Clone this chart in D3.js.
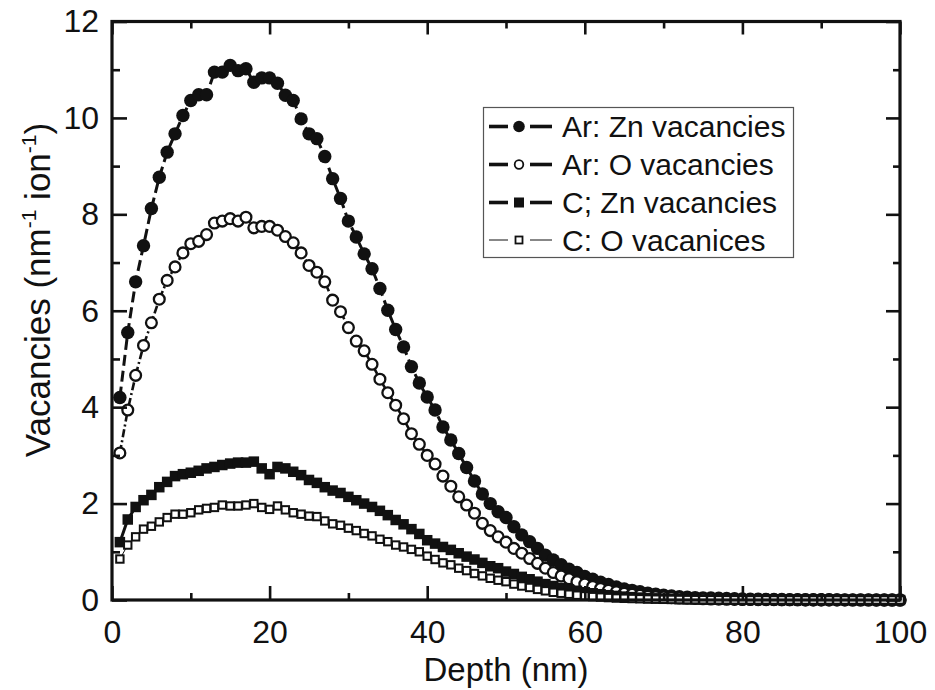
<!DOCTYPE html>
<html>
<head>
<meta charset="utf-8">
<script src="https://cdn.jsdelivr.net/npm/d3@7"></script>
<style>
  html, body { margin: 0; padding: 0; background: #fff; }
  svg { display: block; }
  text { font-family: "Liberation Sans", Arial, Helvetica, sans-serif; fill: #111; }
</style>
</head>
<body>
<svg id="chart" width="935" height="690"></svg>
<script>
// ---------------- DATA ----------------
const depth = d3.range(1, 101); // 1..100 nm

const arZn = [4.2, 5.55, 6.6, 7.35, 8.12, 8.77, 9.29, 9.67, 10.05, 10.36,
  10.48, 10.48, 10.95, 10.95, 11.09, 10.98, 11.02, 10.74, 10.83, 10.83,
  10.72, 10.47, 10.36, 9.98, 9.67, 9.57, 9.2, 8.74, 8.33, 7.86,
  7.53, 7.18, 6.87, 6.46, 6.01, 5.61, 5.25, 4.84, 4.5, 4.21,
  3.94, 3.59, 3.32, 3.04, 2.75, 2.47, 2.2, 2.0, 1.83, 1.71,
  1.52, 1.35, 1.21, 1.07, 0.93, 0.83, 0.73, 0.64, 0.57, 0.49,
  0.43, 0.37, 0.32, 0.27, 0.23, 0.2, 0.17, 0.14, 0.12, 0.1,
  0.085, 0.07, 0.06, 0.05, 0.045, 0.04, 0.035, 0.03, 0.025, 0.02,
  0.018, 0.016, 0.014, 0.012, 0.01, 0.008, 0.007, 0.006, 0.005, 0.004,
  0.004, 0.003, 0.003, 0.002, 0.002, 0.002, 0.001, 0.001, 0.001, 0.001];

const arO = [3.05, 3.94, 4.66, 5.28, 5.75, 6.24, 6.63, 6.91, 7.2, 7.39,
  7.44, 7.58, 7.82, 7.86, 7.91, 7.86, 7.94, 7.72, 7.75, 7.75,
  7.67, 7.54, 7.41, 7.2, 6.94, 6.8, 6.6, 6.22, 5.98, 5.65,
  5.37, 5.17, 4.89, 4.58, 4.3, 4.04, 3.76, 3.45, 3.23, 3.0,
  2.82, 2.57, 2.36, 2.14, 1.97, 1.8, 1.59, 1.44, 1.31, 1.2,
  1.07, 0.97, 0.86, 0.76, 0.66, 0.57, 0.5, 0.44, 0.38, 0.33,
  0.28, 0.24, 0.2, 0.17, 0.14, 0.12, 0.1, 0.08, 0.07, 0.06,
  0.05, 0.04, 0.035, 0.03, 0.025, 0.02, 0.018, 0.015, 0.012, 0.01,
  0.009, 0.008, 0.007, 0.006, 0.005, 0.004, 0.004, 0.003, 0.003, 0.002,
  0.002, 0.002, 0.001, 0.001, 0.001, 0.001, 0.001, 0.001, 0.0, 0.0];

const cZn = [1.2, 1.67, 1.93, 2.07, 2.18, 2.34, 2.45, 2.57, 2.61, 2.64,
  2.68, 2.73, 2.76, 2.8, 2.83, 2.85, 2.85, 2.87, 2.73, 2.61,
  2.76, 2.73, 2.66, 2.59, 2.49, 2.43, 2.34, 2.27, 2.22, 2.14,
  2.07, 2.0, 1.93, 1.85, 1.76, 1.66, 1.57, 1.47, 1.37, 1.24,
  1.17, 1.1, 1.04, 0.97, 0.9, 0.84, 0.77, 0.7, 0.66, 0.59,
  0.54, 0.48, 0.43, 0.38, 0.33, 0.29, 0.25, 0.22, 0.19, 0.16,
  0.14, 0.12, 0.1, 0.085, 0.07, 0.06, 0.05, 0.04, 0.035, 0.03,
  0.025, 0.02, 0.018, 0.015, 0.013, 0.011, 0.009, 0.008, 0.007, 0.006,
  0.005, 0.004, 0.004, 0.003, 0.003, 0.002, 0.002, 0.002, 0.001, 0.001,
  0.001, 0.001, 0.001, 0.0, 0.0, 0.0, 0.0, 0.0, 0.0, 0.0];

const cO = [0.85, 1.14, 1.31, 1.47, 1.53, 1.62, 1.71, 1.78, 1.78, 1.81,
  1.87, 1.9, 1.92, 1.97, 1.95, 1.95, 1.97, 2.0, 1.92, 1.88,
  1.95, 1.87, 1.81, 1.78, 1.74, 1.73, 1.64, 1.58, 1.55, 1.49,
  1.44, 1.38, 1.33, 1.26, 1.21, 1.14, 1.1, 1.05, 1.0, 0.91,
  0.84, 0.77, 0.73, 0.66, 0.61, 0.55, 0.5, 0.45, 0.41, 0.38,
  0.33, 0.29, 0.26, 0.22, 0.19, 0.16, 0.14, 0.12, 0.1, 0.085,
  0.07, 0.06, 0.05, 0.04, 0.035, 0.03, 0.025, 0.02, 0.017, 0.014,
  0.012, 0.01, 0.008, 0.007, 0.006, 0.005, 0.004, 0.004, 0.003, 0.003,
  0.002, 0.002, 0.002, 0.001, 0.001, 0.001, 0.001, 0.0, 0.0, 0.0,
  0.0, 0.0, 0.0, 0.0, 0.0, 0.0, 0.0, 0.0, 0.0, 0.0];

const seriesNames = ["Ar: Zn vacancies", "Ar: O vacancies", "C; Zn vacancies", "C: O vacanices"];
const xMajorTicks = [0, 20, 40, 60, 80, 100];
const xMinorTicks = [10, 30, 50, 70, 90];
const yMajorTicks = [0, 2, 4, 6, 8, 10, 12];
const yMinorTicks = [1, 3, 5, 7, 9, 11];

// ---------------- LAYOUT ----------------
const svg = d3.select("#chart");
const L = 112, R = 900, T = 21.5, B = 600;
const x = d3.scaleLinear().domain([0, 100]).range([L, R]);
const y = d3.scaleLinear().domain([0, 12]).range([B, T]);
const ink = "#111";

// styles per series
const styles = [
  { data: arZn, marker: "circle", fill: ink, size: 6.7, sw: 0, line: 3, dash: "11,5" },
  { data: arO, marker: "circle", fill: "#fff", size: 5.4, sw: 2.3, line: 2.6, dash: "8,3,2,3" },
  { data: cZn, marker: "square", fill: ink, size: 10.5, sw: 0, line: 3, dash: null },
  { data: cO, marker: "square", fill: "#fff", size: 7.4, sw: 2.0, line: 1, dash: null }
];

const plot = svg.append("g");

styles.forEach((s, si) => {
  const pts = depth.map((d, i) => [d, s.data[i]]);
  const line = d3.line().x(d => x(d[0])).y(d => y(d[1]));
  plot.append("path")
    .attr("d", line(pts))
    .attr("fill", "none")
    .attr("stroke", ink)
    .attr("stroke-width", s.line)
    .attr("stroke-dasharray", s.dash);
  const g = plot.append("g");
  if (s.marker === "circle") {
    g.selectAll("circle").data(pts).join("circle")
      .attr("cx", d => x(d[0])).attr("cy", d => y(d[1]))
      .attr("r", s.size)
      .attr("fill", s.fill)
      .attr("stroke", s.sw ? ink : "none")
      .attr("stroke-width", s.sw);
  } else {
    g.selectAll("rect").data(pts).join("rect")
      .attr("x", d => x(d[0]) - s.size / 2).attr("y", d => y(d[1]) - s.size / 2)
      .attr("width", s.size).attr("height", s.size)
      .attr("fill", s.fill)
      .attr("stroke", s.sw ? ink : "none")
      .attr("stroke-width", s.sw);
  }
});

// ---------------- AXES ----------------
function styleAxis(g) {
  g.select(".domain").remove();
  g.selectAll(".tick line").attr("stroke", ink).attr("stroke-width", 2.6);
  g.selectAll("text").attr("font-size", 32).attr("fill", ink)
    .attr("font-family", '"Liberation Sans", Arial, sans-serif');
}

// bottom
svg.append("g").attr("transform", `translate(0,${B})`)
  .call(d3.axisBottom(x).tickValues(xMajorTicks).tickFormat(d3.format("d"))
    .tickSizeInner(-14).tickSizeOuter(0).tickPadding(20))
  .call(styleAxis);
svg.append("g").attr("transform", `translate(0,${B})`)
  .call(d3.axisBottom(x).tickValues(xMinorTicks).tickFormat("")
    .tickSizeInner(-7).tickSizeOuter(0))
  .call(styleAxis);
// top
svg.append("g").attr("transform", `translate(0,${T})`)
  .call(d3.axisTop(x).tickValues(xMajorTicks).tickFormat("")
    .tickSizeInner(-13).tickSizeOuter(0))
  .call(styleAxis);
svg.append("g").attr("transform", `translate(0,${T})`)
  .call(d3.axisTop(x).tickValues(xMinorTicks).tickFormat("")
    .tickSizeInner(-7).tickSizeOuter(0))
  .call(styleAxis);
// left
svg.append("g").attr("transform", `translate(${L},0)`)
  .call(d3.axisLeft(y).tickValues(yMajorTicks).tickFormat(d3.format("d"))
    .tickSizeInner(-15).tickSizeOuter(0).tickPadding(13))
  .call(styleAxis);
svg.append("g").attr("transform", `translate(${L},0)`)
  .call(d3.axisLeft(y).tickValues(yMinorTicks).tickFormat("")
    .tickSizeInner(-8).tickSizeOuter(0))
  .call(styleAxis);
// right
svg.append("g").attr("transform", `translate(${R},0)`)
  .call(d3.axisRight(y).tickValues(yMajorTicks).tickFormat("")
    .tickSizeInner(-14).tickSizeOuter(0))
  .call(styleAxis);
svg.append("g").attr("transform", `translate(${R},0)`)
  .call(d3.axisRight(y).tickValues(yMinorTicks).tickFormat("")
    .tickSizeInner(-7).tickSizeOuter(0))
  .call(styleAxis);

// frame
svg.append("rect")
  .attr("x", L).attr("y", T).attr("width", R - L).attr("height", B - T)
  .attr("fill", "none").attr("stroke", ink).attr("stroke-width", 3.2);

// axis titles
svg.append("text")
  .attr("x", (L + R) / 2).attr("y", 681)
  .attr("text-anchor", "middle").attr("font-size", 33)
  .text("Depth (nm)");

const yt = svg.append("text")
  .attr("transform", "translate(50,290) rotate(-90)")
  .attr("text-anchor", "middle").attr("font-size", 35);
yt.append("tspan").text("Vacancies (nm");
yt.append("tspan").attr("font-size", 21).attr("dy", -14).text("-1");
yt.append("tspan").attr("dy", 14).text(" ion");
yt.append("tspan").attr("font-size", 21).attr("dy", -14).text("-1");
yt.append("tspan").attr("dy", 14).text(")");

// ---------------- LEGEND ----------------
const lg = svg.append("g");
lg.append("rect")
  .attr("x", 483.5).attr("y", 107.5).attr("width", 310).attr("height", 150)
  .attr("fill", "#fff").attr("stroke", "#555").attr("stroke-width", 1.2);

const legendStyles = [
  { marker: "circle", fill: ink, size: 5.8, sw: 0, line: 3.6 },
  { marker: "circle", fill: "#fff", size: 4.3, sw: 1.8, line: 3.6 },
  { marker: "square", fill: ink, size: 10, sw: 0, line: 3.6 },
  { marker: "square", fill: "#fff", size: 7, sw: 1.8, line: 1 }
];
const rowY = [126.5, 164.5, 202.5, 240];
seriesNames.forEach((name, i) => {
  const ls = legendStyles[i];
  const yy = rowY[i];
  lg.append("line").attr("x1", 489).attr("x2", 508).attr("y1", yy).attr("y2", yy)
    .attr("stroke", ink).attr("stroke-width", ls.line);
  lg.append("line").attr("x1", 530).attr("x2", 552).attr("y1", yy).attr("y2", yy)
    .attr("stroke", ink).attr("stroke-width", ls.line);
  if (ls.marker === "circle") {
    lg.append("circle").attr("cx", 519).attr("cy", yy).attr("r", ls.size)
      .attr("fill", ls.fill).attr("stroke", ls.sw ? ink : "none").attr("stroke-width", ls.sw);
  } else {
    lg.append("rect").attr("x", 519 - ls.size / 2).attr("y", yy - ls.size / 2)
      .attr("width", ls.size).attr("height", ls.size)
      .attr("fill", ls.fill).attr("stroke", ls.sw ? ink : "none").attr("stroke-width", ls.sw);
  }
  lg.append("text").attr("x", 562).attr("y", yy + 10.5)
    .attr("font-size", 30).text(name);
});
</script>
</body>
</html>
